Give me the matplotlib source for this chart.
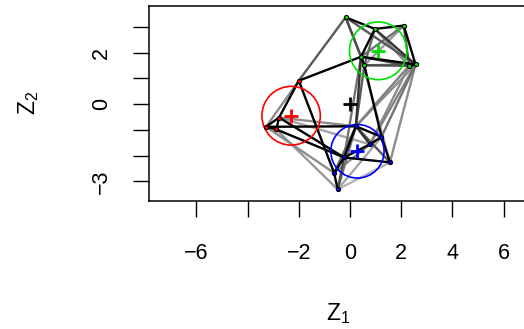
import matplotlib
matplotlib.use('Agg')
import matplotlib.pyplot as plt
from matplotlib.patches import Circle

plt.rcParams['font.family'] = ['Liberation Sans', 'DejaVu Sans']

# latent positions (Z1, Z2) and cluster of each node
z1 = [-0.17, 0.97, 2.10, 0.43, 0.56, 2.31, 2.56,
      -2.00, -2.77, -3.28, -2.88,
      0.23, 1.23, 0.78, -0.23, 1.56, -0.62, -0.48]
z2 = [3.37, 2.92, 3.05, 1.84, 1.51, 1.49, 1.54,
      0.91, -0.52, -0.88, -0.98,
      -0.86, -1.27, -1.56, -2.07, -2.26, -2.67, -3.31]
cluster = [1, 1, 1, 1, 1, 1, 1, 0, 0, 0, 0, 2, 2, 2, 2, 2, 2, 2]

# edges (1-based node ids) with grey level, 0 = black
edges = [
    (1, 2, 0), (2, 3, 0), (3, 7, 0), (3, 6, 0.3), (2, 4, 0), (1, 4, 0.3),
    (1, 5, 0.45), (1, 7, 0.35), (1, 8, 0.35), (2, 5, 0.4), (2, 6, 0.55),
    (2, 7, 0.2), (3, 4, 0.45), (3, 5, 0.6), (4, 5, 0), (4, 7, 0), (4, 6, 0.3),
    (5, 6, 0.3), (5, 7, 0.45), (6, 7, 0), (4, 8, 0), (8, 9, 0), (8, 10, 0.55),
    (8, 17, 0), (9, 10, 0), (9, 11, 0), (10, 11, 0), (10, 12, 0),
    (9, 12, 0.55), (9, 15, 0), (11, 15, 0), (10, 17, 0.55), (11, 18, 0.6),
    (9, 14, 0.65), (12, 4, 0.2), (12, 5, 0.35), (12, 6, 0.5), (12, 7, 0.55),
    (14, 7, 0.5), (14, 6, 0.55), (13, 5, 0), (13, 7, 0.45), (16, 7, 0.55),
    (16, 4, 0.6), (15, 4, 0.45), (12, 13, 0), (12, 14, 0.2), (12, 15, 0),
    (12, 16, 0.35), (13, 14, 0), (13, 16, 0), (14, 15, 0), (15, 16, 0),
    (15, 17, 0), (17, 18, 0), (15, 18, 0.3), (18, 12, 0.45), (18, 13, 0.65),
    (18, 16, 0.7), (17, 12, 0.4), (17, 14, 0.55),
]

# cluster means and radii
cl_colors = ['red', '#00dd00', 'blue']
cl_x = [-2.30, 1.10, 0.29]
cl_y = [-0.45, 2.07, -1.83]
cl_r = [1.14, 1.12, 1.04]

xticks = [-6, -4, -2, 0, 2, 4, 6]
xlabels = ['\u22126', '', '\u22122', '0', '2', '4', '6']
yticks = [-3, -2, -1, 0, 1, 2, 3]
ylabels = ['\u22123', '', '', '0', '', '2', '']

fig = plt.figure(figsize=(5.24, 3.29), dpi=100)
ax = fig.add_axes([149 / 524, 128 / 329, 402 / 524, 195 / 329])

# edges, light ones first so black ones sit on top
for a, b, g in sorted(edges, key=lambda e: -e[2]):
    ax.plot([z1[a - 1], z1[b - 1]], [z2[a - 1], z2[b - 1]],
            color=str(g), lw=1.7, solid_capstyle='round', zorder=2)

for i in range(3):
    ax.add_patch(Circle((cl_x[i], cl_y[i]), cl_r[i], fill=False,
                        ec=cl_colors[i], lw=1.2, zorder=3))
    ax.plot(cl_x[i], cl_y[i], marker='+', color=cl_colors[i], ms=10,
            mew=2, zorder=5)
ax.plot(0, 0, marker='+', color='black', ms=10, mew=2, zorder=5)

for i in range(len(z1)):
    ax.plot(z1[i], z2[i], 'o', ms=3, mfc=cl_colors[cluster[i]], mec='black',
            mew=0.8, zorder=4)

ax.set_xlim(-7.85, 7.85)
ax.set_ylim(-3.76, 3.81)
ax.set_xticks(xticks)
ax.set_xticklabels(xlabels)
ax.set_yticks(yticks)
ax.set_yticklabels(ylabels, rotation=90, va='center')
ax.tick_params(axis='both', length=11.5, width=1, labelsize=15.5)
ax.tick_params(axis='x', pad=19)
ax.tick_params(axis='y', pad=15)
for s in ax.spines.values():
    s.set_linewidth(1.1)

fig.text(338 / 524, 1 - 314 / 329, '$\\mathregular{Z_1}$', ha='center',
         va='center', fontsize=16.5)
fig.text(29 / 524, 1 - 103 / 329, '$\\mathregular{Z_2}$', ha='center',
         va='center', fontsize=16.5, rotation=90)

fig.savefig('out.png', dpi=100)
